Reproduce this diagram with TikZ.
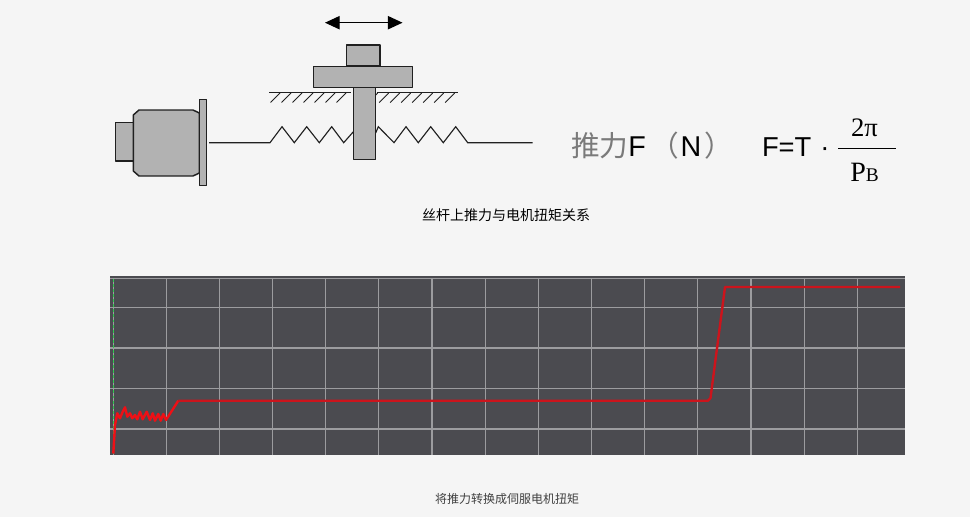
\documentclass[tikz,border=0pt]{standalone}
\usepackage{fontspec}
\setmainfont{Liberation Sans}
\newfontfamily\cjk{Noto Sans CJK SC}
\newfontfamily\serifrm{Liberation Serif}
\usetikzlibrary{arrows.meta}
\definecolor{pagebg}{HTML}{F5F5F5}
\definecolor{partgrey}{HTML}{B2B2B2}
\definecolor{edgegrey}{HTML}{202020}
\definecolor{plotbg}{HTML}{4B4B50}
\definecolor{gridc}{HTML}{9C9C9F}
\definecolor{curve}{HTML}{CC141C}
\definecolor{curvehot}{HTML}{EE1016}
\definecolor{zhgrey}{HTML}{7A7A7A}
\definecolor{cursorgreen}{HTML}{30C850}
\tikzset{
  part/.style={fill=partgrey,draw=edgegrey,line width=1.1pt,line join=round},
  thin line/.style={draw=edgegrey,line width=0.85pt},
  hatchline/.style={draw=edgegrey,line width=0.6pt},
  gridline/.style={draw=gridc,line width=0.85pt},
  curveline/.style={draw=curve,line width=1.8pt,line join=round},
  txt/.style={inner sep=0pt,outer sep=0pt,text=black},
}
\begin{document}
\begin{tikzpicture}[x=0.75pt,y=-0.75pt]
\useasboundingbox (0,0) rectangle (970,517);
\fill[pagebg] (0,0) rectangle (970,517);

% travel arrow
\coordinate (arL) at (325,22.7);
\coordinate (arR) at (402.5,22.7);
\draw[line width=0.9pt,{Triangle[length=11pt,width=10pt]}-{Triangle[length=11pt,width=10pt]},black] (arL) -- (arR);

% ground with hatching
\draw[thin line] (269.3,92.7) -- (350.7,92.7);
\draw[thin line] (376.7,92.7) -- (458.3,92.7);
\foreach \x in {280,291,302,313,324,335,346,{377.7},{388.7},{399.7},{410.7},{421.7},{432.7},{443.7},{454.7}}
  \draw[hatchline] (\x,93) -- ++(-9.5,9.5);

% shaft and spring
\draw[thin line] (209,142.7) -- (270,142.7) -- (282,126.7) -- (294.3,142.7) -- (306.7,126.7) -- (319.3,142.7) -- (331.7,126.7) -- (343.7,142.7) -- (354,131);
\draw[thin line] (375.7,133) -- (378.3,126.7) -- (394,142.7) -- (406,126.7) -- (418.3,142.7) -- (430.7,126.7) -- (443.3,142.7) -- (455.7,126.7) -- (467.7,142.7) -- (532.7,142.7);

% carriage
\draw[part] (346.7,45) rectangle (380,66);
\draw[part] (313.3,66.5) rectangle (412.7,87.3);
\draw[part] (353.7,87.7) rectangle (375.7,159.7);

% motor
\draw[part] (115.3,122.3) rectangle (133.3,161);
\draw[part] (133.3,115) -- (139,110) -- (193,110) -- (199.3,113) -- (199.3,173) -- (193,176) -- (139,176) -- (133.3,171) -- cycle;
\draw[part] (199.3,99.3) rectangle (206.7,185.7);

% formula
\node[txt,anchor=base west] (force) at (571,156.7) {\fontsize{21.5pt}{24pt}\selectfont{\cjk\color{zhgrey}推力}F\hspace{0.15em}{\cjk\color{zhgrey}（}\hspace{0.06em}N\hspace{0.1em}{\cjk\color{zhgrey}）}};
\node[txt,anchor=base west] (eq) at (762,156.7) {\fontsize{20.5pt}{24pt}\selectfont F=T};
\node[txt,anchor=base] (dot) at (825,156.7) {\fontsize{20.5pt}{24pt}\selectfont ·};
\node[txt,anchor=base] (num) at (864.5,136.7) {\fontsize{20pt}{24pt}\selectfont\serifrm 2π};
\node[txt,anchor=base] (den) at (864.5,181) {\serifrm\fontsize{21pt}{24pt}\selectfont P\fontsize{14.5pt}{16pt}\selectfont B};
\coordinate (barL) at (838,148.3);
\coordinate (barR) at (896,148.3);
\draw[black,line width=1.1pt] (barL) -- (barR);

% captions
\node[txt] (cap1) at (506,215) {\cjk\fontsize{10.5pt}{13pt}\selectfont 丝杆上推力与电机扭矩关系};
\node[txt,text=black!75] (cap2) at (507,499) {\cjk\fontsize{9pt}{11pt}\selectfont 将推力转换成伺服电机扭矩};

% plot
\fill[plotbg] (110,276) rectangle (905,455);
\draw[gridline] (110,278.7) -- (905,278.7);
\foreach \y in {307.3,348,388.3,429}
  \draw[gridline] (110,\y) -- (905,\y);
\foreach \x in {166.3,219.4,272.6,325.7,378.9,432,485.2,538.3,591.5,644.6,697.8,751,804.1,857.3}
  \draw[gridline] (\x,279) -- (\x,455);
\draw[gridc,line width=0.9pt] (113.3,279) -- (113.3,455);
\draw[draw=cursorgreen,line width=1.2pt,dash pattern=on 2.2pt off 1.6pt] (113.3,279) -- (113.3,455);

% curve
\draw[curveline,draw=curvehot,line width=1.8pt] (113.3,453.5) -- (115,425) -- (117.3,413.3) -- (120,418.3) -- (122.7,411.7) -- (125,407.3) -- (127.3,416.7) -- (130,413.3) -- (132.3,418.3) -- (135,415) -- (137.3,419.3) -- (140,411.7) -- (142.7,419.3) -- (146.7,411.7) -- (150,420) -- (152.7,413.3) -- (155,420.7) -- (158.3,414) -- (160.7,420.7) -- (163.3,414) -- (166,420) -- (178.3,400.7);
\draw[curveline] (178.3,400.7) -- (708,400.7) -- (710.5,398) -- (725,287) -- (900,287);
\end{tikzpicture}
\end{document}
